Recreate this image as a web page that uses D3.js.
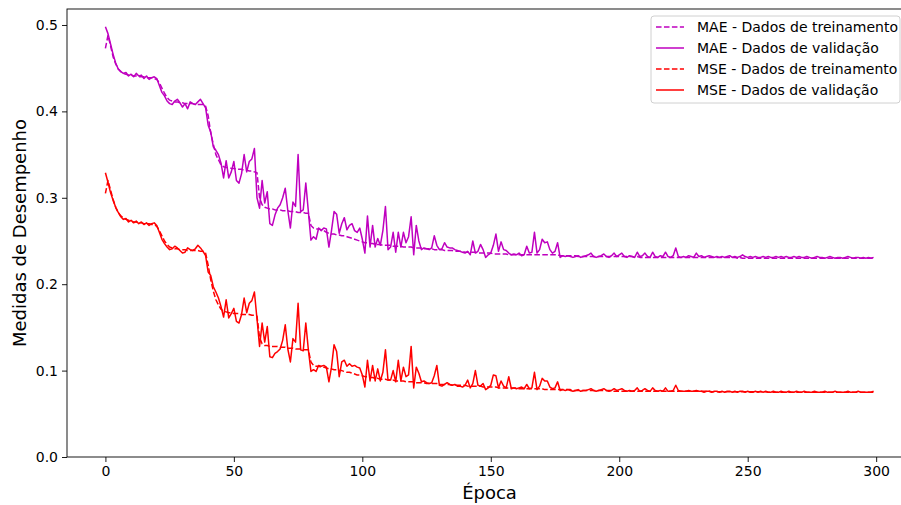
<!DOCTYPE html>
<html>
<head>
<meta charset="utf-8">
<script src="https://cdn.jsdelivr.net/npm/d3@7"></script>
<style>
  body { margin: 0; background: #fff; }
  svg { font-family: "DejaVu Sans", sans-serif; }
</style>
</head>
<body>
<div id="chart"></div>
<script>
"use strict";

// series values, one per epoch (0..299)
const maeTrain = [
  0.473, 0.488, 0.476, 0.463, 0.455, 0.449, 0.446, 0.444, 0.443, 0.442,
  0.442, 0.441, 0.441, 0.440, 0.440, 0.440, 0.439, 0.439, 0.439, 0.438,
  0.437, 0.433, 0.427, 0.421, 0.416, 0.413, 0.412, 0.411, 0.411, 0.410,
  0.410, 0.409, 0.409, 0.409, 0.409, 0.408, 0.408, 0.408, 0.408, 0.406,
  0.395, 0.375, 0.362, 0.350, 0.344, 0.338, 0.336, 0.335, 0.335, 0.334,
  0.334, 0.333, 0.333, 0.333, 0.332, 0.332, 0.331, 0.331, 0.330, 0.329,
  0.300, 0.292, 0.289, 0.288, 0.287, 0.287, 0.286, 0.286, 0.286, 0.285,
  0.285, 0.285, 0.284, 0.284, 0.284, 0.283, 0.283, 0.283, 0.282, 0.282,
  0.268, 0.265, 0.264, 0.264, 0.263, 0.262, 0.260, 0.259, 0.258, 0.258,
  0.257, 0.257, 0.256, 0.256, 0.255, 0.254, 0.253, 0.252, 0.251, 0.250,
  0.249, 0.248, 0.248, 0.247, 0.247, 0.246, 0.246, 0.246, 0.245, 0.245,
  0.245, 0.245, 0.244, 0.244, 0.244, 0.244, 0.243, 0.243, 0.243, 0.243,
  0.242, 0.242, 0.242, 0.242, 0.241, 0.241, 0.241, 0.241, 0.240, 0.240,
  0.240, 0.240, 0.239, 0.239, 0.239, 0.239, 0.238, 0.238, 0.238, 0.238,
  0.237, 0.237, 0.237, 0.237, 0.237, 0.236, 0.236, 0.236, 0.236, 0.236,
  0.236, 0.235, 0.235, 0.235, 0.235, 0.235, 0.235, 0.234, 0.234, 0.234,
  0.234, 0.234, 0.234, 0.234, 0.234, 0.234, 0.234, 0.234, 0.234, 0.234,
  0.234, 0.234, 0.234, 0.234, 0.234, 0.234, 0.234, 0.233, 0.233, 0.233,
  0.233, 0.233, 0.233, 0.233, 0.232, 0.232, 0.232, 0.232, 0.232, 0.232,
  0.232, 0.232, 0.232, 0.232, 0.232, 0.232, 0.232, 0.232, 0.232, 0.232,
  0.232, 0.232, 0.232, 0.232, 0.232, 0.232, 0.231, 0.232, 0.231, 0.231,
  0.231, 0.231, 0.231, 0.231, 0.231, 0.231, 0.231, 0.231, 0.231, 0.231,
  0.231, 0.231, 0.231, 0.231, 0.231, 0.231, 0.231, 0.231, 0.231, 0.231,
  0.231, 0.231, 0.231, 0.231, 0.231, 0.231, 0.231, 0.231, 0.231, 0.231,
  0.231, 0.231, 0.231, 0.231, 0.231, 0.231, 0.230, 0.231, 0.230, 0.230,
  0.230, 0.230, 0.230, 0.230, 0.230, 0.230, 0.230, 0.230, 0.230, 0.230,
  0.230, 0.230, 0.230, 0.230, 0.230, 0.230, 0.230, 0.230, 0.230, 0.230,
  0.230, 0.230, 0.230, 0.230, 0.230, 0.230, 0.230, 0.230, 0.230, 0.230,
  0.230, 0.230, 0.230, 0.230, 0.230, 0.230, 0.230, 0.230, 0.230, 0.230,
  0.230, 0.230, 0.230, 0.230, 0.230, 0.230, 0.230, 0.230, 0.230, 0.230
];

const maeVal = [
  0.498, 0.490, 0.478, 0.466, 0.456, 0.449, 0.446, 0.444, 0.445, 0.441,
  0.443, 0.440, 0.444, 0.441, 0.442, 0.438, 0.441, 0.437, 0.439, 0.440,
  0.438, 0.430, 0.422, 0.418, 0.412, 0.409, 0.408, 0.412, 0.414, 0.410,
  0.405, 0.409, 0.403, 0.411, 0.409, 0.408, 0.411, 0.414, 0.409, 0.404,
  0.384, 0.376, 0.359, 0.355, 0.350, 0.340, 0.323, 0.343, 0.323, 0.330,
  0.342, 0.320, 0.317, 0.328, 0.350, 0.330, 0.342, 0.345, 0.357, 0.300,
  0.288, 0.320, 0.294, 0.307, 0.270, 0.268, 0.280, 0.288, 0.292, 0.300,
  0.311, 0.285, 0.265, 0.295, 0.290, 0.350, 0.284, 0.286, 0.317, 0.284,
  0.251, 0.255, 0.252, 0.265, 0.262, 0.265, 0.264, 0.243, 0.262, 0.284,
  0.281, 0.259, 0.270, 0.277, 0.263, 0.268, 0.270, 0.262, 0.260, 0.265,
  0.252, 0.236, 0.279, 0.243, 0.268, 0.243, 0.253, 0.245, 0.262, 0.290,
  0.240, 0.243, 0.260, 0.237, 0.260, 0.243, 0.260, 0.248, 0.255, 0.278,
  0.234, 0.268, 0.250, 0.240, 0.242, 0.241, 0.240, 0.242, 0.256, 0.245,
  0.240, 0.241, 0.248, 0.243, 0.242, 0.242, 0.240, 0.239, 0.238, 0.237,
  0.236, 0.238, 0.234, 0.250, 0.236, 0.238, 0.246, 0.240, 0.231, 0.234,
  0.236, 0.245, 0.258, 0.238, 0.249, 0.240, 0.239, 0.236, 0.234, 0.235,
  0.234, 0.236, 0.233, 0.234, 0.244, 0.236, 0.237, 0.260, 0.236, 0.240,
  0.252, 0.248, 0.249, 0.240, 0.236, 0.238, 0.248, 0.231, 0.233, 0.232,
  0.233, 0.232, 0.231, 0.232, 0.233, 0.231, 0.232, 0.233, 0.234, 0.236,
  0.232, 0.231, 0.232, 0.233, 0.235, 0.232, 0.231, 0.233, 0.236, 0.232,
  0.234, 0.236, 0.232, 0.231, 0.233, 0.232, 0.231, 0.237, 0.232, 0.233,
  0.236, 0.232, 0.231, 0.237, 0.232, 0.231, 0.233, 0.232, 0.237, 0.232,
  0.231, 0.233, 0.242, 0.232, 0.231, 0.232, 0.231, 0.233, 0.232, 0.231,
  0.236, 0.232, 0.233, 0.231, 0.232, 0.233, 0.232, 0.231, 0.232, 0.231,
  0.232, 0.231, 0.232, 0.233, 0.231, 0.232, 0.231, 0.232, 0.234, 0.232,
  0.231, 0.232, 0.231, 0.232, 0.231, 0.231, 0.232, 0.231, 0.232, 0.231,
  0.231, 0.232, 0.231, 0.232, 0.231, 0.232, 0.231, 0.231, 0.232, 0.231,
  0.232, 0.231, 0.231, 0.232, 0.231, 0.230, 0.231, 0.232, 0.231, 0.231,
  0.230, 0.231, 0.232, 0.231, 0.230, 0.231, 0.231, 0.230, 0.231, 0.232,
  0.231, 0.230, 0.231, 0.231, 0.230, 0.231, 0.230, 0.231, 0.230, 0.231
];

const mseTrain = [
  0.305, 0.320, 0.309, 0.298, 0.289, 0.283, 0.279, 0.277, 0.275, 0.274,
  0.273, 0.272, 0.272, 0.271, 0.271, 0.270, 0.270, 0.270, 0.269, 0.269,
  0.267, 0.262, 0.256, 0.250, 0.246, 0.243, 0.242, 0.241, 0.241, 0.240,
  0.240, 0.240, 0.239, 0.239, 0.239, 0.239, 0.239, 0.238, 0.238, 0.236,
  0.222, 0.205, 0.192, 0.182, 0.176, 0.171, 0.169, 0.168, 0.167, 0.167,
  0.166, 0.166, 0.166, 0.165, 0.165, 0.165, 0.165, 0.164, 0.164, 0.163,
  0.138, 0.131, 0.129, 0.129, 0.128, 0.128, 0.128, 0.128, 0.127, 0.127,
  0.127, 0.126, 0.126, 0.126, 0.125, 0.125, 0.125, 0.124, 0.124, 0.124,
  0.110, 0.106, 0.105, 0.105, 0.104, 0.104, 0.103, 0.102, 0.102, 0.101,
  0.101, 0.100, 0.100, 0.099, 0.098, 0.098, 0.097, 0.096, 0.095, 0.095,
  0.094, 0.093, 0.093, 0.092, 0.092, 0.091, 0.091, 0.090, 0.090, 0.090,
  0.089, 0.089, 0.089, 0.088, 0.088, 0.088, 0.088, 0.087, 0.087, 0.087,
  0.087, 0.086, 0.086, 0.086, 0.086, 0.085, 0.085, 0.085, 0.085, 0.085,
  0.084, 0.084, 0.084, 0.084, 0.084, 0.083, 0.083, 0.083, 0.083, 0.083,
  0.083, 0.082, 0.082, 0.082, 0.082, 0.082, 0.082, 0.081, 0.081, 0.081,
  0.081, 0.081, 0.081, 0.080, 0.080, 0.080, 0.080, 0.080, 0.080, 0.080,
  0.080, 0.079, 0.079, 0.079, 0.079, 0.079, 0.079, 0.079, 0.079, 0.079,
  0.079, 0.078, 0.078, 0.078, 0.078, 0.078, 0.078, 0.078, 0.078, 0.078,
  0.078, 0.078, 0.077, 0.077, 0.077, 0.077, 0.077, 0.077, 0.077, 0.077,
  0.077, 0.077, 0.077, 0.077, 0.077, 0.077, 0.077, 0.077, 0.076, 0.076,
  0.076, 0.076, 0.076, 0.076, 0.076, 0.076, 0.076, 0.076, 0.076, 0.076,
  0.076, 0.076, 0.076, 0.076, 0.076, 0.076, 0.076, 0.076, 0.076, 0.076,
  0.076, 0.076, 0.076, 0.076, 0.076, 0.076, 0.076, 0.076, 0.076, 0.076,
  0.076, 0.076, 0.076, 0.076, 0.076, 0.076, 0.0755, 0.0755, 0.0755, 0.0755,
  0.0755, 0.0755, 0.0755, 0.0755, 0.0755, 0.0755, 0.0755, 0.0755, 0.0755, 0.0755,
  0.0755, 0.0755, 0.0755, 0.0755, 0.0755, 0.0755, 0.0755, 0.0755, 0.075, 0.075,
  0.075, 0.075, 0.075, 0.075, 0.075, 0.075, 0.075, 0.075, 0.075, 0.075,
  0.075, 0.075, 0.075, 0.075, 0.075, 0.075, 0.075, 0.075, 0.075, 0.075,
  0.075, 0.075, 0.075, 0.075, 0.075, 0.075, 0.075, 0.075, 0.075, 0.075,
  0.075, 0.075, 0.075, 0.075, 0.075, 0.075, 0.075, 0.075, 0.075, 0.075
];

const mseVal = [
  0.329, 0.318, 0.306, 0.297, 0.289, 0.283, 0.278, 0.275, 0.276, 0.272,
  0.274, 0.271, 0.273, 0.270, 0.272, 0.269, 0.271, 0.268, 0.270, 0.271,
  0.268, 0.260, 0.252, 0.247, 0.243, 0.240, 0.241, 0.244, 0.242, 0.239,
  0.236, 0.237, 0.242, 0.240, 0.239, 0.241, 0.245, 0.242, 0.238, 0.233,
  0.214, 0.210, 0.197, 0.191, 0.184, 0.174, 0.162, 0.182, 0.161, 0.166,
  0.172, 0.157, 0.155, 0.165, 0.184, 0.167, 0.178, 0.181, 0.191, 0.160,
  0.128, 0.155, 0.133, 0.151, 0.116, 0.115, 0.120, 0.122, 0.125, 0.135,
  0.153, 0.125, 0.110, 0.137, 0.133, 0.178, 0.124, 0.123, 0.155, 0.124,
  0.099, 0.101, 0.099, 0.106, 0.105, 0.106, 0.104, 0.087, 0.104, 0.130,
  0.122, 0.093, 0.110, 0.112, 0.105, 0.108, 0.105, 0.106, 0.104, 0.103,
  0.095, 0.081, 0.112, 0.088, 0.106, 0.088, 0.102, 0.088, 0.098, 0.124,
  0.089, 0.089, 0.100, 0.087, 0.112, 0.088, 0.104, 0.093, 0.095, 0.128,
  0.080, 0.104, 0.097, 0.087, 0.088, 0.086, 0.085, 0.086, 0.094, 0.106,
  0.083, 0.082, 0.084, 0.086, 0.084, 0.083, 0.084, 0.082, 0.082, 0.081,
  0.083, 0.089, 0.080, 0.085, 0.100, 0.083, 0.082, 0.085, 0.078, 0.080,
  0.083, 0.095, 0.094, 0.080, 0.088, 0.082, 0.080, 0.093, 0.079, 0.080,
  0.079, 0.080, 0.081, 0.079, 0.084, 0.079, 0.080, 0.098, 0.078, 0.082,
  0.091, 0.088, 0.088, 0.081, 0.079, 0.080, 0.087, 0.077, 0.078, 0.077,
  0.078, 0.077, 0.076, 0.077, 0.078, 0.076, 0.077, 0.077, 0.078, 0.079,
  0.077, 0.076, 0.077, 0.078, 0.079, 0.077, 0.076, 0.077, 0.079, 0.077,
  0.078, 0.079, 0.077, 0.076, 0.077, 0.076, 0.077, 0.080, 0.076, 0.077,
  0.079, 0.077, 0.076, 0.080, 0.077, 0.076, 0.077, 0.076, 0.080, 0.076,
  0.076, 0.077, 0.083, 0.077, 0.076, 0.076, 0.076, 0.077, 0.076, 0.076,
  0.077, 0.076, 0.076, 0.075, 0.076, 0.076, 0.075, 0.076, 0.076, 0.075,
  0.076, 0.075, 0.076, 0.076, 0.075, 0.076, 0.075, 0.076, 0.076, 0.075,
  0.076, 0.075, 0.075, 0.076, 0.075, 0.076, 0.075, 0.076, 0.075, 0.075,
  0.076, 0.075, 0.075, 0.076, 0.075, 0.075, 0.076, 0.075, 0.075, 0.076,
  0.075, 0.075, 0.076, 0.075, 0.075, 0.075, 0.076, 0.075, 0.075, 0.075,
  0.076, 0.075, 0.075, 0.075, 0.076, 0.075, 0.075, 0.075, 0.075, 0.076,
  0.075, 0.075, 0.075, 0.076, 0.075, 0.075, 0.075, 0.075, 0.075, 0.076
];

const xTicks = [0, 50, 100, 150, 200, 250, 300];
const yTicks = [0.0, 0.1, 0.2, 0.3, 0.4, 0.5];

const seriesNames = [
  "MAE - Dados de treinamento",
  "MAE - Dados de validação",
  "MSE - Dados de treinamento",
  "MSE - Dados de validação"
];

const series = [
  { name: seriesNames[0], values: maeTrain, color: "#bf00bf", dashed: true },
  { name: seriesNames[1], values: maeVal,   color: "#bf00bf", dashed: false },
  { name: seriesNames[2], values: mseTrain, color: "#ff0000", dashed: true },
  { name: seriesNames[3], values: mseVal,   color: "#ff0000", dashed: false }
];

const W = 901, H = 505;
const plotLeft = 67, plotTop = 9, plotRight = 912, plotBottom = 457;

const svg = d3.select("#chart").append("svg")
  .attr("width", W).attr("height", H);

const x = d3.scaleLinear().domain([-14.95, 313.95]).range([plotLeft, plotRight]);
const y = d3.scaleLinear().domain([0, 0.5185]).range([plotBottom, plotTop]);

const line = d3.line()
  .x((d, i) => x(i))
  .y(d => y(d));

// lines
series.forEach(s => {
  svg.append("path")
    .datum(s.values)
    .attr("fill", "none")
    .attr("stroke", s.color)
    .attr("stroke-width", 1.5)
    .attr("stroke-linejoin", "round")
    .attr("stroke-dasharray", s.dashed ? "5.55,2.4" : null)
    .attr("d", line);
});

// axes
const xAxis = svg.append("g")
  .attr("transform", `translate(0,${plotBottom})`)
  .call(d3.axisBottom(x).tickValues(xTicks).tickSize(5).tickPadding(4).tickFormat(d3.format("d")));

const yAxis = svg.append("g")
  .attr("transform", `translate(${plotLeft},0)`)
  .call(d3.axisLeft(y).tickValues(yTicks).tickSize(5).tickPadding(4).tickFormat(d3.format(".1f")));

[xAxis, yAxis].forEach(g => {
  g.select(".domain").remove();
  g.selectAll(".tick line").attr("stroke", "#000").attr("stroke-width", 0.9);
  g.selectAll(".tick text")
    .attr("fill", "#000")
    .style("font-size", "14px")
    .style("font-family", "'DejaVu Sans', sans-serif");
});

// frame (right side is outside the picture)
svg.append("rect")
  .attr("x", plotLeft).attr("y", plotTop)
  .attr("width", plotRight - plotLeft).attr("height", plotBottom - plotTop)
  .attr("fill", "none")
  .attr("stroke", "#000")
  .attr("stroke-width", 0.9);

// axis labels
svg.append("text")
  .attr("x", (plotLeft + plotRight) / 2)
  .attr("y", 499)
  .attr("text-anchor", "middle")
  .style("font-size", "18px")
  .text("Época");

svg.append("text")
  .attr("transform", `translate(26,${(plotTop + plotBottom) / 2}) rotate(-90)`)
  .attr("text-anchor", "middle")
  .style("font-size", "18px")
  .text("Medidas de Desempenho");

// legend
const legend = svg.append("g");
legend.append("rect")
  .attr("x", 651).attr("y", 16)
  .attr("width", 249).attr("height", 87)
  .attr("rx", 3)
  .attr("fill", "#fff")
  .attr("fill-opacity", 0.8)
  .attr("stroke", "#d0d0d0");

series.forEach((s, i) => {
  const ly = 27 + i * 21;
  legend.append("line")
    .attr("x1", 656).attr("x2", 684)
    .attr("y1", ly).attr("y2", ly)
    .attr("stroke", s.color)
    .attr("stroke-width", 1.5)
    .attr("stroke-dasharray", s.dashed ? "5.55,2.4" : null);
  legend.append("text")
    .attr("x", 697).attr("y", ly)
    .attr("dy", "0.35em")
    .style("font-size", "14px")
    .text(s.name);
});
</script>
</body>
</html>
